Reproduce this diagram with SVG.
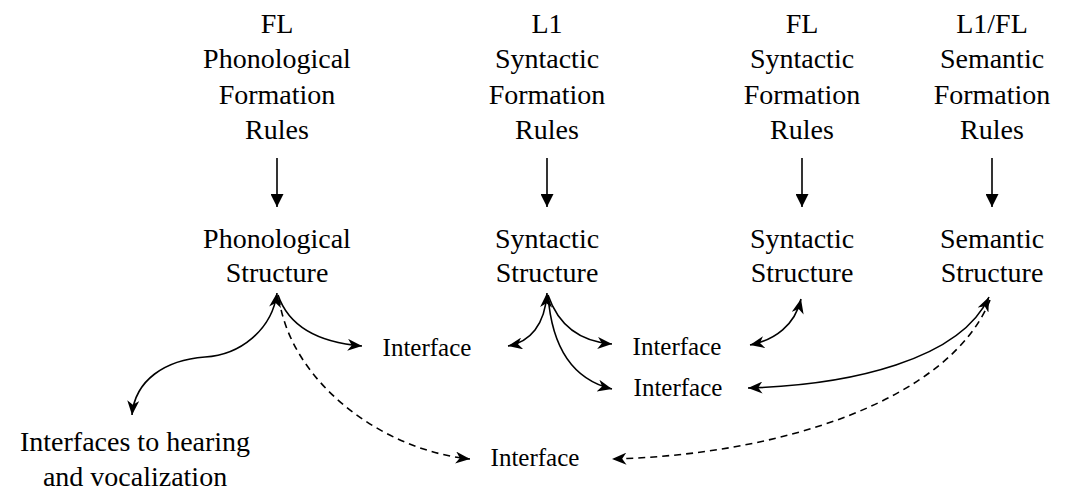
<svg xmlns="http://www.w3.org/2000/svg" width="1070" height="497" viewBox="0 0 1070 497">
<defs>
<style>
.ln{fill:none;stroke:#000;stroke-width:1.6}
.dash{stroke-dasharray:7 5}
</style>
<marker id="tri" viewBox="0 0 10 10" refX="10" refY="5" markerWidth="15" markerHeight="13" markerUnits="userSpaceOnUse" orient="auto-start-reverse">
<path d="M0,0 L10,5 L0,10 z" fill="#000"/>
</marker>
<marker id="stl" viewBox="0 0 12 10" refX="12" refY="5" markerWidth="15" markerHeight="12" markerUnits="userSpaceOnUse" orient="auto-start-reverse">
<path d="M0,0 L12,5 L0,10 L3.5,5 z" fill="#000"/>
</marker>
</defs>
<rect width="1070" height="497" fill="#fff"/>
<g id="fl-phon-rules">
<text x="260.7" y="33" font-family="Liberation Serif" font-size="28">FL</text>
<text x="203.1" y="68" font-family="Liberation Serif" font-size="28">Phonological</text>
<text x="218.7" y="104" font-family="Liberation Serif" font-size="28">Formation</text>
<text x="245.1" y="139" font-family="Liberation Serif" font-size="28">Rules</text>
</g>
<g id="l1-syn-rules">
<text x="531.4" y="33" font-family="Liberation Serif" font-size="28">L1</text>
<text x="494.9" y="68" font-family="Liberation Serif" font-size="28">Syntactic</text>
<text x="488.7" y="104" font-family="Liberation Serif" font-size="28">Formation</text>
<text x="515.1" y="139" font-family="Liberation Serif" font-size="28">Rules</text>
</g>
<g id="fl-syn-rules">
<text x="785.7" y="33" font-family="Liberation Serif" font-size="28">FL</text>
<text x="749.9" y="68" font-family="Liberation Serif" font-size="28">Syntactic</text>
<text x="743.7" y="104" font-family="Liberation Serif" font-size="28">Formation</text>
<text x="770.1" y="139" font-family="Liberation Serif" font-size="28">Rules</text>
</g>
<g id="sem-rules">
<text x="956.2" y="33" font-family="Liberation Serif" font-size="28">L1/FL</text>
<text x="939.9" y="68" font-family="Liberation Serif" font-size="28">Semantic</text>
<text x="933.7" y="104" font-family="Liberation Serif" font-size="28">Formation</text>
<text x="960.1" y="139" font-family="Liberation Serif" font-size="28">Rules</text>
</g>
<g id="phon-structure">
<text x="203.1" y="248" font-family="Liberation Serif" font-size="28">Phonological</text>
<text x="225.7" y="282" font-family="Liberation Serif" font-size="28">Structure</text>
</g>
<g id="l1-syn-structure">
<text x="494.9" y="248" font-family="Liberation Serif" font-size="28">Syntactic</text>
<text x="495.7" y="282" font-family="Liberation Serif" font-size="28">Structure</text>
</g>
<g id="fl-syn-structure">
<text x="749.9" y="248" font-family="Liberation Serif" font-size="28">Syntactic</text>
<text x="750.7" y="282" font-family="Liberation Serif" font-size="28">Structure</text>
</g>
<g id="sem-structure">
<text x="939.9" y="248" font-family="Liberation Serif" font-size="28">Semantic</text>
<text x="940.7" y="282" font-family="Liberation Serif" font-size="28">Structure</text>
</g>
<g id="interface1"><text x="382.6" y="356" font-family="Liberation Serif" font-size="25">Interface</text></g>
<g id="interface2"><text x="632.6" y="355" font-family="Liberation Serif" font-size="25">Interface</text></g>
<g id="interface3"><text x="633.6" y="396" font-family="Liberation Serif" font-size="25">Interface</text></g>
<g id="interface4"><text x="490.6" y="466" font-family="Liberation Serif" font-size="25">Interface</text></g>
<g id="hearing">
<text x="20" y="451" font-family="Liberation Serif" font-size="28">Interfaces to hearing</text>
<text x="42.9" y="486" font-family="Liberation Serif" font-size="28">and vocalization</text>
</g>
<g id="connectors">
<line class="ln" x1="277" y1="158" x2="277" y2="207" marker-end="url(#tri)"/>
<line class="ln" x1="547" y1="158" x2="547" y2="207" marker-end="url(#tri)"/>
<line class="ln" x1="802" y1="158" x2="802" y2="207" marker-end="url(#tri)"/>
<line class="ln" x1="992" y1="158" x2="992" y2="207" marker-end="url(#tri)"/>
<path class="ln" d="M277 293 C272 330 240 355 205 357 C165 360 135 380 132 415" marker-start="url(#stl)" marker-end="url(#stl)"/>
<path class="ln" d="M278 295 C290 330 325 343 362 346" marker-end="url(#stl)"/>
<path class="ln dash" d="M279 298 C290 380 380 450 470 459" marker-end="url(#stl)"/>
<path class="ln" d="M547 293 C545 325 530 342 508 346" marker-start="url(#stl)" marker-end="url(#stl)"/>
<path class="ln" d="M548 295 C560 330 585 342 612 344" marker-end="url(#stl)"/>
<path class="ln" d="M548 295 C552 350 575 380 612 389" marker-end="url(#stl)"/>
<path class="ln" d="M801 299 C795 325 775 340 750 345" marker-start="url(#stl)" marker-end="url(#stl)"/>
<path class="ln" d="M989 297 C960 360 850 385 748 388" marker-start="url(#stl)" marker-end="url(#stl)"/>
<path class="ln dash" d="M990 300 C950 400 780 455 612 459" marker-end="url(#stl)"/>
</g>
</svg>
